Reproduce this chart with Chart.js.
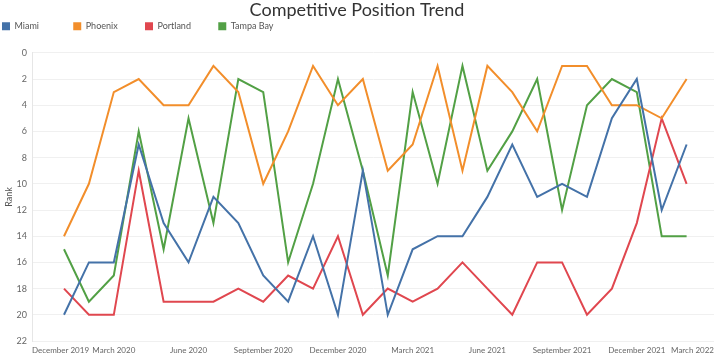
<!DOCTYPE html>
<html>
<head>
<meta charset="utf-8">
<script src="https://cdn.jsdelivr.net/npm/chart.js@4/dist/chart.umd.min.js"></script>
<style>
  html, body { margin: 0; padding: 0; background: #ffffff; }
  #wrap { width: 720px; height: 356px; }
</style>
</head>
<body>
<div id="wrap"><canvas id="c" width="720" height="356"></canvas></div>
<script>
// Months with data (January 2020 .. February 2022)
const months = [
  'Jan 2020','Feb 2020','Mar 2020','Apr 2020','May 2020','Jun 2020','Jul 2020','Aug 2020',
  'Sep 2020','Oct 2020','Nov 2020','Dec 2020','Jan 2021','Feb 2021','Mar 2021','Apr 2021',
  'May 2021','Jun 2021','Jul 2021','Aug 2021','Sep 2021','Oct 2021','Nov 2021','Dec 2021',
  'Jan 2022','Feb 2022'
];
// Axis tick labels (quarterly, starting December 2019)
const tickLabels = [
  'December 2019','March 2020','June 2020','September 2020','December 2020',
  'March 2021','June 2021','September 2021','December 2021','March 2022'
];
const seriesNames = ['Miami','Phoenix','Portland','Tampa Bay'];
const miami    = [20,16,16,7,13,16,11,13,17,19,14,20,9,20,15,14,14,11,7,11,10,11,5,2,12,7];
const phoenix  = [14,10,3,2,4,4,1,3,10,6,1,4,2,9,7,1,9,1,3,6,1,1,4,4,5,2];
const portland = [18,20,20,9,19,19,19,18,19,17,18,14,20,18,19,18,16,18,20,16,16,20,18,13,5,10];
const tampaBay = [15,19,17,6,15,5,13,2,3,16,10,2,9,17,3,10,1,9,6,2,12,4,2,3,14,14];
const yTicks   = [0,2,4,6,8,10,12,14,16,18,20,22];

const colors = ['#4472a8','#f28e2b','#e0474f','#52a045'];
const seriesValues = [miami, phoenix, portland, tampaBay];

// month position: December 2019 = 0, January 2020 = 1, ...
const toPoints = arr => arr.map((v, i) => ({ x: i + 1, y: v }));

const legendFontSpec = '9px Lato';
const measureCtx = document.createElement('canvas').getContext('2d');
function padLabel(text, target) {
  measureCtx.font = legendFontSpec;
  let s = text;
  while (measureCtx.measureText(s + ' ').width <= target) s += ' ';
  return s;
}

const datasets = seriesNames.map((name, k) => ({
  label: name,
  data: toPoints(seriesValues[k]),
  borderColor: colors[k],
  backgroundColor: colors[k],
  borderWidth: 2,
  pointRadius: 0,
  pointHoverRadius: 0,
  tension: 0,
  fill: false
}));

new Chart(document.getElementById('c'), {
  type: 'line',
  data: { datasets },
  options: {
    responsive: false,
    animation: false,
    devicePixelRatio: 1,
    layout: { padding: { left: 0, right: 6, top: 0, bottom: 0 } },
    plugins: {
      title: {
        display: true,
        text: 'Competitive Position Trend',
        color: '#333333',
        font: { family: 'Lato', size: 18, weight: 'normal', lineHeight: 1.1 },
        padding: { top: 0, bottom: 0 }
      },
      legend: {
        display: true,
        position: 'top',
        align: 'start',
        labels: {
          boxWidth: 8,
          boxHeight: 8,
          padding: 2,
          color: '#555555',
          font: { family: 'Lato', size: 9 },
          generateLabels(chart) {
            const items = Chart.defaults.plugins.legend.labels.generateLabels(chart);
            items.forEach(it => { it.text = padLabel(it.text, 58.8); it.lineWidth = 0; });
            return items;
          }
        }
      },
      tooltip: { enabled: false }
    },
    scales: {
      x: {
        type: 'linear',
        min: -0.285,
        max: 27.1,
        afterBuildTicks(scale) {
          // quarterly ticks; the two edge labels are pinned to the plot edges
          const last = tickLabels.length - 1;
          scale.ticks = tickLabels.map((t, k) => ({
            value: k === 0 ? scale.min : (k === last ? scale.max : k * 3)
          }));
        },
        afterFit(scale) { scale.height = 15; },
        grid: { display: false, drawTicks: false },
        border: { display: false },
        ticks: {
          align: 'inner',
          maxRotation: 0,
          autoSkip: false,
          padding: 5,
          color: '#666666',
          font: { family: 'Lato', size: 8 },
          callback(value, index) {
            return tickLabels[index] !== undefined ? tickLabels[index] : '';
          }
        }
      },
      xTop: {
        type: 'linear',
        position: 'top',
        display: true,
        afterFit(scale) { scale.height = 12; },
        grid: { display: false, drawTicks: false },
        border: { display: false },
        ticks: { display: false }
      },
      y: {
        type: 'linear',
        reverse: true,
        min: 0,
        max: 22,
        afterBuildTicks(scale) {
          scale.ticks = yTicks.map(v => ({ value: v }));
        },
        afterFit(scale) { scale.width = 32; },
        title: {
          display: true,
          text: 'Rank',
          color: '#555555',
          font: { family: 'Lato', size: 9 },
          padding: { top: 4, bottom: 0 }
        },
        grid: { color: '#f0f0f0', lineWidth: 1, drawTicks: false },
        border: { display: true, color: '#e6e6e6' },
        ticks: {
          padding: 5,
          color: '#666666',
          font: { family: 'Lato', size: 9 }
        }
      }
    }
  }
});
</script>
</body>
</html>
